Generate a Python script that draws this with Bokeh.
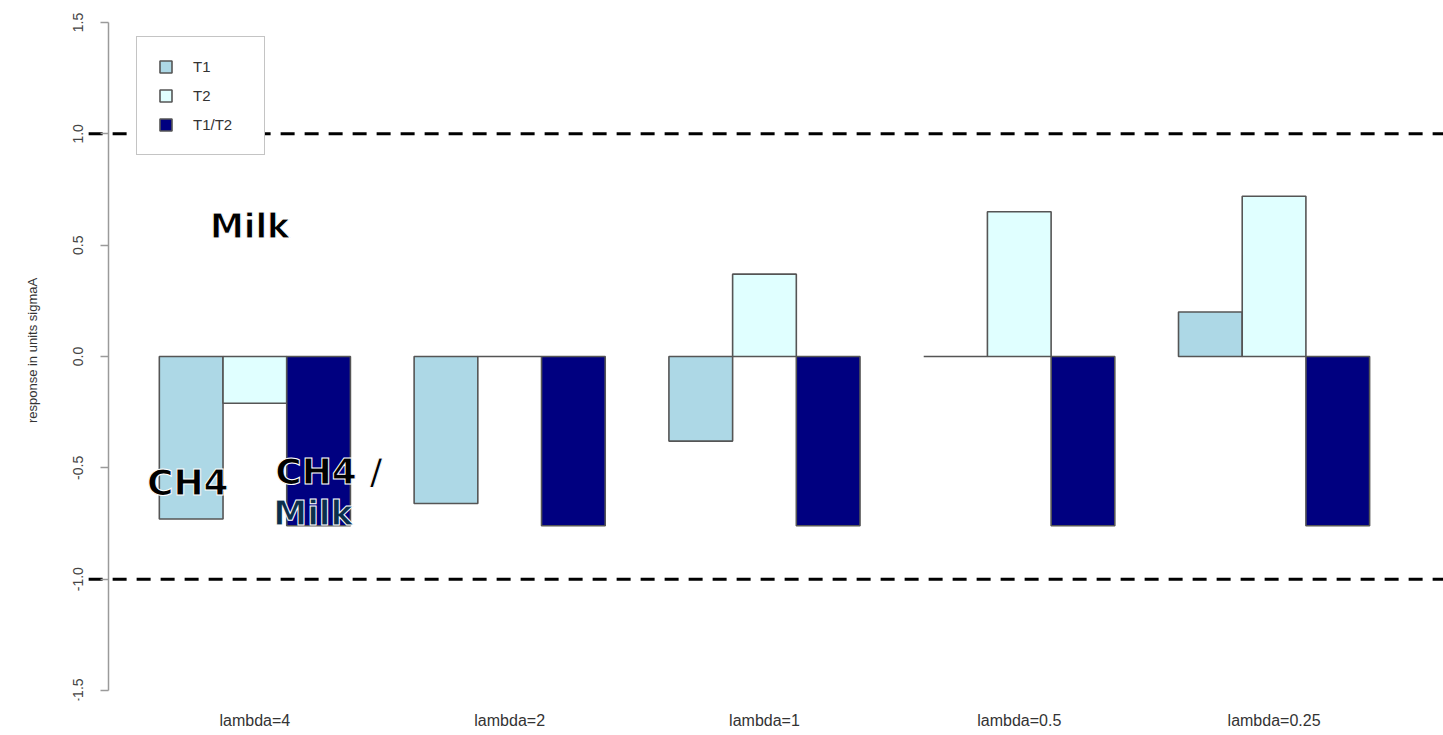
from bokeh.plotting import figure
from bokeh.models import (ColumnDataSource, Legend, LegendItem, FixedTicker, LinearAxis,
                          PrintfTickFormatter)
from bokeh.core.properties import value
from bokeh.embed import file_html
from bokeh.resources import INLINE

# Selection response per scenario (units of sigmaA)
scenarios = ["lambda=4", "lambda=2", "lambda=1", "lambda=0.5", "lambda=0.25"]
t1 = [-0.73, -0.66, -0.38, 0.0, 0.20]
t2 = [-0.21, 0.0, 0.37, 0.65, 0.72]
t1_t2 = [-0.76, -0.76, -0.76, -0.76, -0.76]
series_names = ["T1", "T2", "T1/T2"]
series_colors = ["#ADD8E6", "#E0FFFF", "#000080"]
y_ticks = [-1.5, -1.0, -0.5, 0.0, 0.5, 1.0, 1.5]
thresholds = [-1.0, 1.0]

# grouped layout: three bars of width 1 per group, one empty slot between groups
group_start = [1 + 4 * g for g in range(len(scenarios))]
group_center = [s + 1.5 for s in group_start]

p = figure(width=1443, height=735, output_backend="svg", toolbar_location=None,
           x_range=(-0.63, 21.16), y_range=(-1.545, 1.599),
           min_border_left=55, min_border_right=0, min_border_top=0, min_border_bottom=35)
p.grid.visible = False
p.outline_line_color = None
p.background_fill_color = "white"
p.border_fill_color = "white"

renderers = []
for j, (vals, color) in enumerate(zip([t1, t2, t1_t2], series_colors)):
    src = ColumnDataSource(dict(x=[s + j + 0.5 for s in group_start], top=vals,
                                bottom=[0.0] * len(vals)))
    r = p.vbar(x="x", top="top", bottom="bottom", width=1.0, source=src,
               fill_color=color, line_color="#555555", line_width=1.6)
    renderers.append(r)

# reference lines at +/- one unit, starting just left of the axis
p.segment(x0=[-0.11] * len(thresholds), x1=[22.0] * len(thresholds),
          y0=thresholds, y1=thresholds, line_color="black", line_width=3,
          line_dash="14 10")

# y axis drawn R-style inside the plot area, limited to the tick range
ya = p.yaxis[0]
ya.fixed_location = 0.2
ya.bounds = (-1.5, 1.5)
ya.ticker = FixedTicker(ticks=y_ticks)
ya.formatter = PrintfTickFormatter(format="%.1f")
ya.minor_tick_line_color = None
ya.axis_line_color = "#9a9a9a"
ya.axis_line_width = 1.5
ya.major_tick_line_color = "#9a9a9a"
ya.major_tick_line_width = 1.5
ya.major_tick_out = 8
ya.major_tick_in = 0
ya.major_label_orientation = "vertical"
ya.major_label_standoff = 17
ya.major_label_text_font = "Liberation Sans"
ya.major_label_text_font_size = "14px"
ya.major_label_text_color = "#444444"

# axis title carried by a bare, tickless axis in the left margin
title_axis = LinearAxis(axis_label="response in units sigmaA", ticker=FixedTicker(ticks=[]),
                        axis_line_color=None, major_tick_line_color=None,
                        minor_tick_line_color=None, major_label_standoff=0,
                        axis_label_standoff=16, axis_label_text_font="Liberation Sans",
                        axis_label_text_font_style="normal", axis_label_text_font_size="13px",
                        axis_label_text_color="#333333")
p.add_layout(title_axis, "left")

xa = p.xaxis[0]
xa.ticker = FixedTicker(ticks=group_center)
xa.major_label_overrides = {c: s for c, s in zip(group_center, scenarios)}
xa.axis_line_color = None
xa.major_tick_line_color = None
xa.minor_tick_line_color = None
xa.major_label_standoff = 5
xa.major_label_text_font = "Liberation Sans"
xa.major_label_text_font_size = "16px"
xa.major_label_text_color = "#333333"

legend = Legend(items=[LegendItem(label=n, renderers=[r]) for n, r in zip(series_names, renderers)],
                location=(81, 545), padding=21, margin=0, spacing=12,
                glyph_width=15, glyph_height=15, label_height=17, label_width=50,
                label_standoff=20, label_text_font="Liberation Sans",
                label_text_font_size="15px", label_text_color="#333333",
                border_line_color="#8a8a8a", border_line_width=1.5,
                background_fill_color="white", background_fill_alpha=1.0)
p.add_layout(legend)

# trait annotations
note_black = ColumnDataSource(dict(x=[2.42, 1.447, 2.82], y=[0.585, -0.565, -0.515],
                                   txt=["Milk", "CH4", "CH4 /"],
                                   align=["center", "center", "left"],
                                   size=["34px", "36px", "36px"]))
p.text(x="x", y="y", text="txt", source=note_black, text_align="align",
       text_baseline="alphabetic", text_font=value("DejaVu Sans"), text_font_style="bold",
       text_font_size="size", text_color="black", text_outline_color="white")
note_navy = ColumnDataSource(dict(x=[2.79], y=[-0.705], txt=["Milk"]))
p.text(x="x", y="y", text="txt", source=note_navy, text_align="left",
       text_baseline="alphabetic", text_font=value("DejaVu Sans"), text_font_style="bold",
       text_font_size="34px", text_color="#0b2f4c", text_outline_color="white")

open("out.html", "w").write(file_html(p, INLINE))
